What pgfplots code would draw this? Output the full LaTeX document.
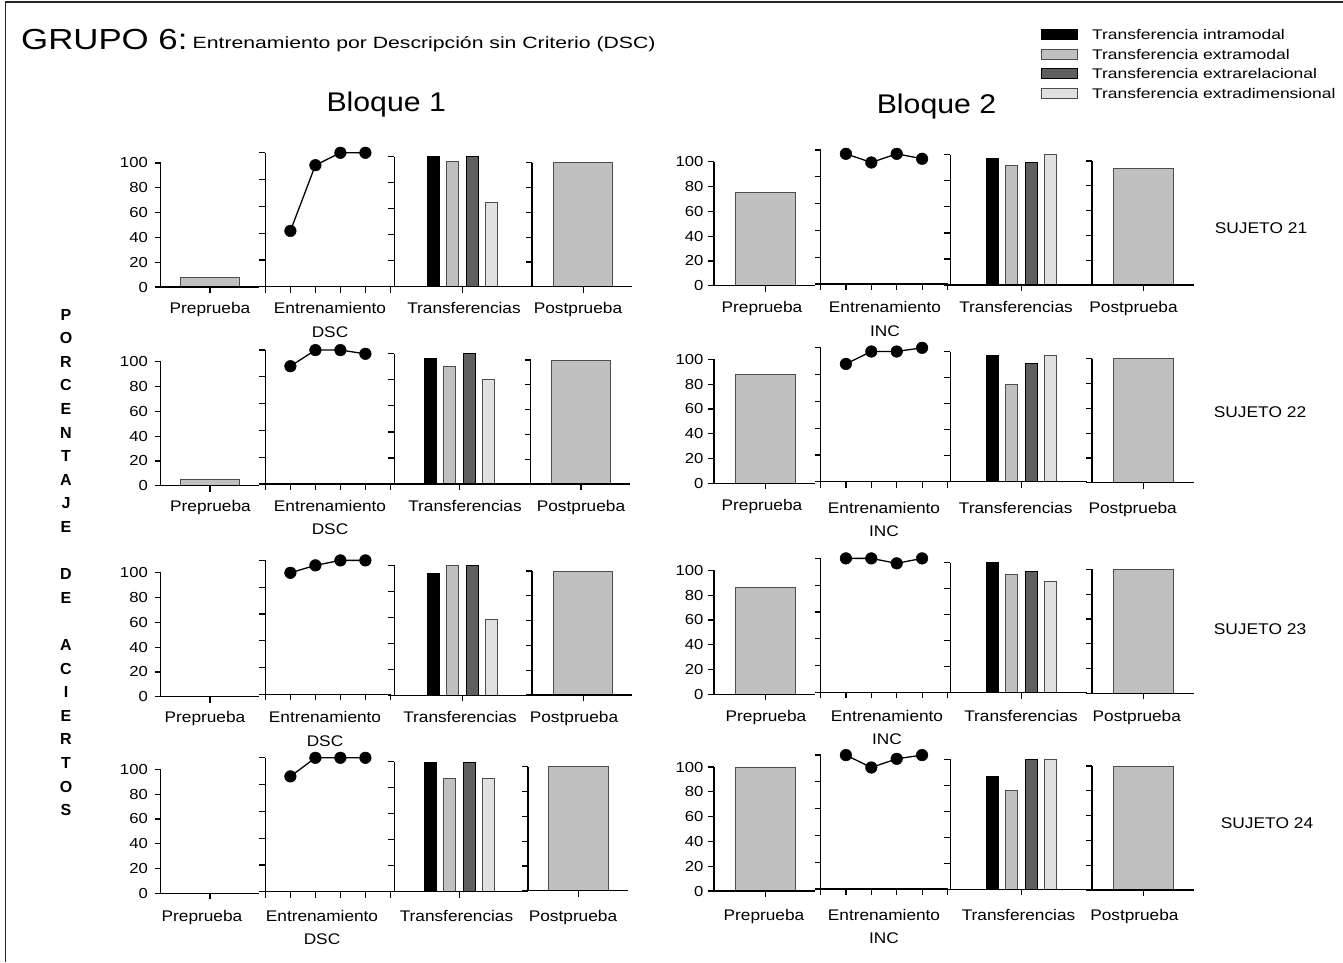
\documentclass[border=0pt]{standalone}
\usepackage{pgfplots}
\pgfplotsset{compat=1.18}
\usepackage{fontspec}
\setmainfont{Liberation Sans}
\usepackage{graphicx}

\definecolor{gB}{HTML}{C0C0C0}
\definecolor{gD}{HTML}{5F5F5F}
\definecolor{gL}{HTML}{E0E0E0}
\definecolor{gE}{HTML}{4D4D4D}

\newcommand\tl[1]{\scalebox{1.15}[1]{#1}}
\newcommand\sx[1]{\scalebox{1.12}[1]{#1}}

\pgfplotsset{
 panel/.style={anchor=south west, x=1pt, y=1.24pt, ymin=0, axis lines*=left,
   axis line style={line width=1.5pt, black}, tick align=outside, major tick length=6pt,
   tick style={line width=1.2pt, black}, clip=false, axis on top,
   xticklabels={}, yticklabels={}, minor tick num=0},
 pre/.style={panel, ymax=100, ytick={0,20,40,60,80,100}, xtick={0},
   yticklabel style={font=\fontsize{14.5}{17}\selectfont, anchor=east, inner sep=0pt},
   yticklabels={\tl{0},\tl{20},\tl{40},\tl{60},\tl{80},\tl{100}}},
 post/.style={panel, ymax=100, ytick={0,20,40,60,80,100}, xtick={0}},
 ent/.style={panel, x=25pt, xmin=0, xmax=5, ymax=108, ytick={0,21.6,43.2,64.8,86.4,108}, xtick={0,1,2,3,4,5}},
 trans/.style={panel, ymax=105, ytick={0,21,42,63,84,105}, xtick={0}},
 bG/.style={ybar, bar shift=0pt, bar width=59.2pt, fill=gB, draw=gE, line width=1pt},
 entl/.style={black, line width=1.3pt, mark=*, mark size=5.8pt, mark options={fill=black, line width=0.5pt}},
 tA/.style={ybar, bar shift=0pt, bar width=12pt, fill=black, draw=black, line width=1pt},
 tB/.style={ybar, bar shift=0pt, bar width=12pt, fill=gB, draw=gE, line width=1pt},
 tC/.style={ybar, bar shift=0pt, bar width=12pt, fill=gD, draw=black, line width=1pt},
 tD/.style={ybar, bar shift=0pt, bar width=12pt, fill=gL, draw=gE, line width=1pt},
}

\tikzset{
 lab/.style={anchor=base, inner sep=0pt, font=\fontsize{15.4}{18}\selectfont},
 suj/.style={anchor=base, inner sep=0pt, font=\fontsize{15.5}{18}\selectfont},
}

\begin{document}
\begin{tikzpicture}
\path[use as bounding box] (0pt,0pt) rectangle (1343pt,-962pt);
\draw[line width=1.5pt, black!85] (5.5pt,-962pt) -- (5.5pt,-2pt) -- (1343pt,-2pt);

% titles
\node[anchor=base west, inner sep=0pt, font=\fontsize{29}{32}\selectfont] at (21pt,-49pt) {\scalebox{1.2}[1]{GRUPO 6:}};
\node[anchor=base west, inner sep=0pt, font=\fontsize{16.3}{19}\selectfont] at (192.5pt,-48pt) {\scalebox{1.3}[1]{Entrenamiento por Descripción sin Criterio (DSC)}};
\node[anchor=base, inner sep=0pt, font=\fontsize{27}{30}\selectfont] at (386.2pt,-111.7pt) {\sx{Bloque 1}};
\node[anchor=base, inner sep=0pt, font=\fontsize{27}{30}\selectfont] at (936.5pt,-113pt) {\sx{Bloque 2}};

% vertical label
\foreach \l/\i in {P/0,O/1,R/2,C/3,E/4,N/5,T/6,A/7,J/8,E/9,D/11,E/12,A/14,C/15,I/16,E/17,R/18,T/19,O/20,S/21}
  \node[anchor=base, inner sep=0pt, font=\bfseries\fontsize{16}{18}\selectfont] at (66pt,{-(320+\i*23.6)*1pt}) {\l};

% subject labels
\node[suj] at (1261pt,-233.3pt) {\scalebox{1.12}[1]{SUJETO 21}};
\node[suj] at (1260pt,-417.5pt) {\scalebox{1.12}[1]{SUJETO 22}};
\node[suj] at (1260pt,-634.5pt) {\scalebox{1.12}[1]{SUJETO 23}};
\node[suj] at (1267pt,-828.5pt) {\scalebox{1.12}[1]{SUJETO 24}};

% legend
\begin{axis}[hide axis, at={(1041.2pt,-28.8pt)}, anchor=north west, scale only axis, width=5pt, height=5pt,
  xmin=0, xmax=1, ymin=0, ymax=1,
  legend style={at={(0,1)}, anchor=north west, draw=none, fill=none, inner sep=0pt, row sep=8.7pt,
     nodes={inner sep=0pt, text depth=0pt, font=\fontsize{14}{17}\selectfont},
     /tikz/every odd column/.append style={column sep=14pt}},
  legend cell align=left,
  legend image code/.code={\draw[#1, line width=1pt] (0pt,-5pt) rectangle (35.6pt,5pt);}]
\addlegendimage{fill=black, draw=black}
\addlegendentry{\scalebox{1.25}[1]{Transferencia intramodal}}
\addlegendimage{fill=gB, draw=gE}
\addlegendentry{\scalebox{1.25}[1]{Transferencia extramodal}}
\addlegendimage{fill=gD, draw=black}
\addlegendentry{\scalebox{1.25}[1]{Transferencia extrarelacional}}
\addlegendimage{fill=gL, draw=gE}
\addlegendentry{\scalebox{1.25}[1]{Transferencia extradimensional}}
\end{axis}

%%%%%%%%%%%%%%%% BLOQUE 1 %%%%%%%%%%%%%%%%
% Sujeto 21
\begin{axis}[pre, at={(160.5pt,-287pt)}, xmin=-49.5, xmax=49.1, yticklabel style={xshift=-6.5pt}]
\addplot[bG] coordinates {(0,8)};
\end{axis}
\begin{axis}[ent, at={(265.4pt,-286.7pt)}]
\addplot[entl] coordinates {(1,45) (2,98) (3,108) (4,108)};
\end{axis}
\begin{axis}[trans, at={(394.3pt,-286.7pt)}, xmin=-68.2, xmax=65]
\addplot[tA] coordinates {(-29.3,105)};
\addplot[tB] coordinates {(-9.75,101)};
\addplot[tC] coordinates {(9.75,105)};
\addplot[tD] coordinates {(29.3,68)};
\end{axis}
\begin{axis}[post, at={(532.2pt,-286.7pt)}, xmin=-51, xmax=49]
\addplot[bG] coordinates {(0,100)};
\end{axis}

% Sujeto 22
\begin{axis}[pre, at={(160.5pt,-485.7pt)}, xmin=-49.5, xmax=49.1, yticklabel style={xshift=-6.5pt}]
\addplot[bG] coordinates {(0,5)};
\end{axis}
\begin{axis}[ent, at={(265.4pt,-484pt)}]
\addplot[entl] coordinates {(1,95) (2,108) (3,108) (4,105)};
\end{axis}
\begin{axis}[trans, at={(394.3pt,-484pt)}, xmin=-65.3, xmax=67.9]
\addplot[tA] coordinates {(-29.3,101)};
\addplot[tB] coordinates {(-9.75,95)};
\addplot[tC] coordinates {(9.75,105)};
\addplot[tD] coordinates {(29.3,84)};
\end{axis}
\begin{axis}[post, at={(530.5pt,-484pt)}, xmin=-50.5, xmax=49]
\addplot[bG] coordinates {(0,100)};
\end{axis}

% Sujeto 23
\begin{axis}[pre, at={(160.5pt,-696.7pt)}, xmin=-49.5, xmax=49.1, yticklabel style={xshift=-6.5pt}]
\addplot[bG] coordinates {(0,0)};
\end{axis}
\begin{axis}[ent, at={(265.4pt,-694.3pt)}]
\addplot[entl] coordinates {(1,98) (2,104) (3,108) (4,108)};
\end{axis}
\begin{axis}[trans, at={(394.3pt,-695.3pt)}, xmin=-68.2, xmax=65]
\addplot[tA] coordinates {(-29.3,98)};
\addplot[tB] coordinates {(-9.75,105)};
\addplot[tC] coordinates {(9.75,105)};
\addplot[tD] coordinates {(29.3,61)};
\end{axis}
\begin{axis}[post, at={(532.2pt,-695pt)}, xmin=-51, xmax=49]
\addplot[bG] coordinates {(0,100)};
\end{axis}

% Sujeto 24
\begin{axis}[pre, at={(160.5pt,-893.3pt)}, xmin=-49.5, xmax=49.1, yticklabel style={xshift=-6.5pt}]
\addplot[bG] coordinates {(0,0)};
\end{axis}
\begin{axis}[ent, at={(265.4pt,-891.7pt)}]
\addplot[entl] coordinates {(1,93) (2,108) (3,108) (4,108)};
\end{axis}
\begin{axis}[trans, at={(394.3pt,-891.7pt)}, xmin=-65.3, xmax=67.9]
\addplot[tA] coordinates {(-29.3,104)};
\addplot[tB] coordinates {(-9.75,91)};
\addplot[tC] coordinates {(9.75,104)};
\addplot[tD] coordinates {(29.3,91)};
\end{axis}
\begin{axis}[post, at={(528.1pt,-890.7pt)}, xmin=-50.3, xmax=49.6]
\addplot[bG] coordinates {(0,100)};
\end{axis}

%%%%%%%%%%%%%%%% BLOQUE 2 %%%%%%%%%%%%%%%%
% Sujeto 21
\begin{axis}[pre, at={(714.2pt,-285.7pt)}, xmin=-51.2, xmax=49.6, yticklabel style={xshift=-4.5pt}]
\addplot[bG] coordinates {(0,75)};
\end{axis}
\begin{axis}[ent, x=25.4pt, at={(820.5pt,-284pt)}]
\addplot[entl] coordinates {(1,105) (2,98) (3,105) (4,101)};
\end{axis}
\begin{axis}[trans, at={(950.3pt,-285pt)}, xmin=-71.2, xmax=65.6]
\addplot[tA] coordinates {(-29.3,102)};
\addplot[tB] coordinates {(-9.75,96)};
\addplot[tC] coordinates {(9.75,99)};
\addplot[tD] coordinates {(29.3,105)};
\end{axis}
\begin{axis}[post, at={(1092.2pt,-285pt)}, xmin=-51.3, xmax=50.3]
\addplot[bG] coordinates {(0,94)};
\end{axis}

% Sujeto 22
\begin{axis}[pre, at={(714.2pt,-483.3pt)}, xmin=-51.2, xmax=49.6, yticklabel style={xshift=-4.5pt}]
\addplot[bG] coordinates {(0,88)};
\end{axis}
\begin{axis}[ent, x=25.4pt, at={(820.5pt,-481.7pt)}]
\addplot[entl] coordinates {(1,95) (2,105) (3,105) (4,108)};
\end{axis}
\begin{axis}[trans, at={(950.3pt,-481.7pt)}, xmin=-71.2, xmax=65.6]
\addplot[tA] coordinates {(-29.3,102)};
\addplot[tB] coordinates {(-9.75,78)};
\addplot[tC] coordinates {(9.75,95)};
\addplot[tD] coordinates {(29.3,102)};
\end{axis}
\begin{axis}[post, at={(1092.2pt,-482.7pt)}, xmin=-51.3, xmax=50.3]
\addplot[bG] coordinates {(0,100)};
\end{axis}

% Sujeto 23
\begin{axis}[pre, at={(714.2pt,-694.3pt)}, xmin=-51.2, xmax=49.6, yticklabel style={xshift=-4.5pt}]
\addplot[bG] coordinates {(0,86)};
\end{axis}
\begin{axis}[ent, x=25.4pt, at={(820.5pt,-692.3pt)}]
\addplot[entl] coordinates {(1,108) (2,108) (3,104) (4,108)};
\end{axis}
\begin{axis}[trans, at={(950.3pt,-692.7pt)}, xmin=-71.2, xmax=65.6]
\addplot[tA] coordinates {(-29.3,105)};
\addplot[tB] coordinates {(-9.75,95)};
\addplot[tC] coordinates {(9.75,98)};
\addplot[tD] coordinates {(29.3,90)};
\end{axis}
\begin{axis}[post, at={(1092.2pt,-693.3pt)}, xmin=-51.3, xmax=50.3]
\addplot[bG] coordinates {(0,100)};
\end{axis}

% Sujeto 24
\begin{axis}[pre, at={(714.2pt,-891pt)}, xmin=-51.2, xmax=49.6, yticklabel style={xshift=-4.5pt}]
\addplot[bG] coordinates {(0,100)};
\end{axis}
\begin{axis}[ent, x=25.4pt, at={(820.5pt,-889pt)}]
\addplot[entl] coordinates {(1,108) (2,98) (3,105) (4,108)};
\end{axis}
\begin{axis}[trans, at={(950.3pt,-889.3pt)}, xmin=-71.2, xmax=65.6]
\addplot[tA] coordinates {(-29.3,91)};
\addplot[tB] coordinates {(-9.75,80)};
\addplot[tC] coordinates {(9.75,105)};
\addplot[tD] coordinates {(29.3,105)};
\end{axis}
\begin{axis}[post, at={(1092.2pt,-890pt)}, xmin=-51.3, xmax=50.3]
\addplot[bG] coordinates {(0,100)};
\end{axis}

%%%%%%%%%%%%%%%% x labels %%%%%%%%%%%%%%%%
% Bloque 1
\node[lab] at (210pt,-313.3pt) {\sx{Preprueba}};
\node[lab] at (330pt,-313.3pt) {\sx{Entrenamiento}};
\node[lab] at (330pt,-337.3pt) {\sx{DSC}};
\node[lab] at (464pt,-313.3pt) {\sx{Transferencias}};
\node[lab] at (578pt,-313.3pt) {\sx{Postprueba}};

\node[lab] at (210.5pt,-511pt) {\sx{Preprueba}};
\node[lab] at (330pt,-511pt) {\sx{Entrenamiento}};
\node[lab] at (330pt,-534.5pt) {\sx{DSC}};
\node[lab] at (465pt,-511pt) {\sx{Transferencias}};
\node[lab] at (581pt,-511pt) {\sx{Postprueba}};

\node[lab] at (205pt,-722.5pt) {\sx{Preprueba}};
\node[lab] at (325pt,-722.5pt) {\sx{Entrenamiento}};
\node[lab] at (325pt,-746pt) {\sx{DSC}};
\node[lab] at (460pt,-722.5pt) {\sx{Transferencias}};
\node[lab] at (574pt,-722.5pt) {\sx{Postprueba}};

\node[lab] at (202pt,-921.5pt) {\sx{Preprueba}};
\node[lab] at (322pt,-921.5pt) {\sx{Entrenamiento}};
\node[lab] at (322pt,-944.5pt) {\sx{DSC}};
\node[lab] at (456.5pt,-921.5pt) {\sx{Transferencias}};
\node[lab] at (573pt,-921.5pt) {\sx{Postprueba}};

% Bloque 2
\node[lab] at (762pt,-312.5pt) {\sx{Preprueba}};
\node[lab] at (885pt,-312.5pt) {\sx{Entrenamiento}};
\node[lab] at (885pt,-336.7pt) {\sx{INC}};
\node[lab] at (1016pt,-312.5pt) {\sx{Transferencias}};
\node[lab] at (1133.5pt,-312.5pt) {\sx{Postprueba}};

\node[lab] at (762pt,-510pt) {\sx{Preprueba}};
\node[lab] at (884pt,-513pt) {\sx{Entrenamiento}};
\node[lab] at (884pt,-536.5pt) {\sx{INC}};
\node[lab] at (1015.7pt,-513pt) {\sx{Transferencias}};
\node[lab] at (1132.7pt,-513pt) {\sx{Postprueba}};

\node[lab] at (766pt,-721pt) {\sx{Preprueba}};
\node[lab] at (887pt,-721pt) {\sx{Entrenamiento}};
\node[lab] at (887pt,-744pt) {\sx{INC}};
\node[lab] at (1021pt,-721pt) {\sx{Transferencias}};
\node[lab] at (1136.8pt,-721pt) {\sx{Postprueba}};

\node[lab] at (764pt,-920.5pt) {\sx{Preprueba}};
\node[lab] at (884pt,-920.5pt) {\sx{Entrenamiento}};
\node[lab] at (884pt,-943.5pt) {\sx{INC}};
\node[lab] at (1018.5pt,-920.5pt) {\sx{Transferencias}};
\node[lab] at (1134.4pt,-920.5pt) {\sx{Postprueba}};
\end{tikzpicture}
\end{document}
